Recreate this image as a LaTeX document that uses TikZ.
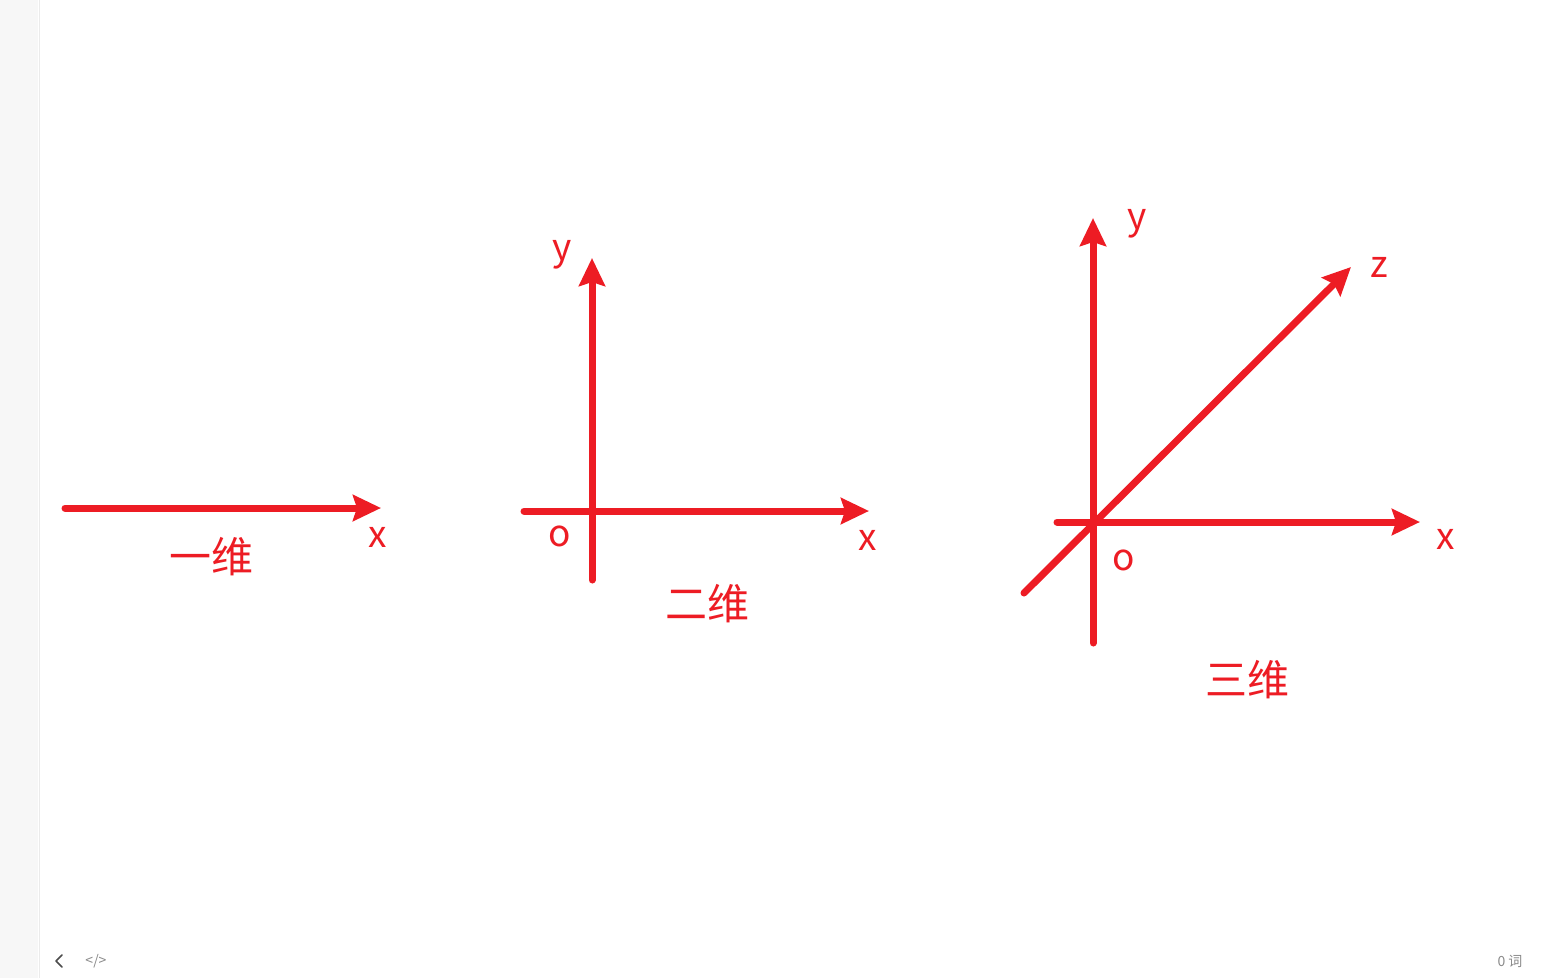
\documentclass[tikz,border=0pt]{standalone}
\usepackage{fontspec}
\setmainfont{Noto Sans CJK SC}
\usetikzlibrary{arrows.meta}

\definecolor{axisred}{HTML}{ED1C24}
\definecolor{uigray}{HTML}{8A8A8A}

\tikzset{
	axis/.style={axisred, line width=7pt, line cap=round, -{Stealth[length=28pt, width=26pt, inset=4pt]}},
	lbl/.style={text=axisred, inner sep=0pt, font=\fontsize{37}{40}\selectfont},
	dimlbl/.style={text=axisred, inner sep=0pt, font=\fontsize{42}{46}\selectfont},
	uilbl/.style={text=uigray, inner sep=0pt, font=\fontsize{14}{16}\selectfont}
}

\begin{document}
\begin{tikzpicture}[x=1pt, y=-1pt]
			\useasboundingbox (0, 0) rectangle (1567, 978);
			\fill[white] (0, 0) rectangle (1567, 978);
			\fill[black!3] (0, 0) rectangle (38, 978);
			\draw[black!8, line width=1pt] (39, 0) -- (39, 978);
			
			% one dimension
			\coordinate (a1) at (65, 508);
			\coordinate (a2) at (381, 508);
			\node[lbl] (x1) at (378, 537) {x};
			\node[dimlbl] (t1) at (211, 557) {一维};
			
			\draw[axis] (a1) -- (a2);
			
			% two dimensions
			\coordinate (b1) at (524, 511);
			\coordinate (b2) at (869, 511);
			\coordinate (b3) at (592, 580);
			\coordinate (b4) at (592, 258);
			\node[lbl] (y2) at (562, 255) {y};
			\node[lbl] (o2) at (560, 536) {o};
			\node[lbl] (x2) at (868, 540) {x};
			\node[dimlbl] (t2) at (707, 604) {二维};
			
			\draw[axis] (b1) -- (b2);
			\draw[axis] (b3) -- (b4);
			
			% three dimensions
			\coordinate (c1) at (1057, 522);
			\coordinate (c2) at (1420, 522);
			\coordinate (c3) at (1093, 643);
			\coordinate (c4) at (1093, 218);
			\coordinate (c5) at (1024, 593);
			\coordinate (c6) at (1351, 267);
			\node[lbl] (y3) at (1137, 224) {y};
			\node[lbl] (z3) at (1379, 267) {z};
			\node[lbl] (x3) at (1446, 539) {x};
			\node[lbl] (o3) at (1124, 560) {o};
			\node[dimlbl] (t3) at (1247, 680) {三维};
			
			\draw[axis] (c1) -- (c2);
			\draw[axis] (c3) -- (c4);
			\draw[axis] (c5) -- (c6);
			
			% editor bar
			\coordinate (k1) at (62, 955);
			\coordinate (k2) at (56, 961);
			\coordinate (k3) at (62, 967);
			\draw[black!70, line width=1.5pt, line cap=round, line join=round] (k1) -- (k2) -- (k3);
			\node[uilbl] (code) at (96, 961) {</>};
			\node[uilbl] (words) at (1510, 961) {0 词};
		\end{tikzpicture}
\end{document}
